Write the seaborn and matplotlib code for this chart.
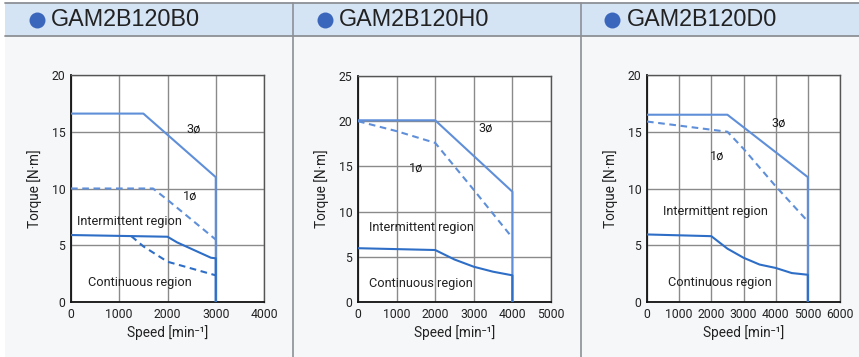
import matplotlib
matplotlib.use("Agg")
import matplotlib.pyplot as plt
import seaborn as sns
import pandas as pd
from matplotlib.patches import Rectangle
from matplotlib.lines import Line2D

sns.set_theme(style="white")
NARROW = ["Roboto", "DejaVu Sans"]
plt.rcParams["font.family"] = NARROW

# ---------------- data ----------------
titles = ["GAM2B120B0", "GAM2B120H0", "GAM2B120D0"]
x_max = [4000, 5000, 6000]
y_max = [20, 25, 20]

# GAM2B120B0
b0_3ph_x = [0, 1500, 3000, 3000]
b0_3ph_y = [16.6, 16.6, 11.0, 0]
b0_1ph_x = [0, 1700, 2000, 3000]
b0_1ph_y = [10.0, 10.0, 9.0, 5.5]
b0_cont_x = [0, 2000, 2200, 2900, 3000, 3000]
b0_cont_y = [5.9, 5.75, 5.25, 3.9, 3.85, 0]
b0_cont1_x = [1250, 1500, 2000, 2500, 3000]
b0_cont1_y = [5.8, 4.9, 3.55, 2.95, 2.35]

# GAM2B120H0
h0_3ph_x = [0, 2000, 4000, 4000]
h0_3ph_y = [20.1, 20.1, 12.2, 0]
h0_1ph_x = [0, 1000, 2000, 3000, 4000]
h0_1ph_y = [20.0, 18.9, 17.6, 12.4, 7.1]
h0_cont_x = [0, 2000, 2500, 3000, 3500, 4000, 4000]
h0_cont_y = [5.95, 5.75, 4.7, 3.9, 3.35, 2.95, 0]

# GAM2B120D0
d0_3ph_x = [0, 2500, 5000, 5000]
d0_3ph_y = [16.5, 16.5, 11.0, 0]
d0_1ph_x = [0, 2500, 3000, 4000, 5000]
d0_1ph_y = [15.9, 15.0, 13.5, 10.2, 7.1]
d0_cont_x = [0, 2000, 2500, 3000, 3500, 4000, 4500, 5000, 5000]
d0_cont_y = [5.95, 5.8, 4.7, 3.9, 3.3, 3.0, 2.55, 2.4, 0]

labels_3ph = [(2550, 15.2), (3300, 19.2), (4100, 15.8)]
labels_1ph = [(2470, 9.3), (1500, 14.8), (2190, 12.9)]
labels_int = [(1220, 7.1), (1640, 8.2), (2140, 7.95)]
labels_cont = [(1430, 1.7), (1640, 2.1), (2280, 1.7)]

LIGHT = "#5f8fd9"
DARK = "#2e6ec6"

W, H = 859, 357
fig = plt.figure(figsize=(W / 100, H / 100), dpi=100)
fig.patch.set_facecolor("white")


def fx(px):
    return px / W


def fy(py):
    return 1 - py / H


# background panels
fig.add_artist(Rectangle((fx(5), 0), fx(W - 5), fy(36), transform=fig.transFigure,
                         facecolor="#f6f7f9", edgecolor="none", zorder=0))
fig.add_artist(Rectangle((fx(5), fy(36)), fx(W - 5), (33) / H, transform=fig.transFigure,
                         facecolor="#d5e4f5", edgecolor="none", zorder=0))
for yy in (3, 36):
    fig.add_artist(Line2D([fx(5), 1], [fy(yy), fy(yy)], transform=fig.transFigure,
                          color="#8c9096", lw=1.3, zorder=1))
for xx in (293, 581):
    fig.add_artist(Line2D([fx(xx), fx(xx)], [0, fy(3)], transform=fig.transFigure,
                          color="#8c9096", lw=1.2, zorder=1))

# titles
bullet_x = [37, 325, 612]
title_x = [51, 339, 627]
for bx, tx, t in zip(bullet_x, title_x, titles):
    fig.add_artist(Line2D([fx(bx)], [fy(20)], transform=fig.transFigure, marker="o",
                          markersize=11.5, color="#3a66bc", markeredgewidth=0, zorder=2))
    fig.text(fx(tx), fy(20), t, fontsize=16.8, color="#222222", va="center", ha="left",
             family=["Liberation Sans", "DejaVu Sans"], zorder=2)

boxes = [(71, 264, 75, 302), (358, 551, 76, 302), (647, 840, 75, 302)]

series = [
    [(b0_3ph_x, b0_3ph_y, LIGHT, "-"), (b0_1ph_x, b0_1ph_y, LIGHT, "--"),
     (b0_cont_x, b0_cont_y, DARK, "-"), (b0_cont1_x, b0_cont1_y, DARK, "--")],
    [(h0_3ph_x, h0_3ph_y, LIGHT, "-"), (h0_1ph_x, h0_1ph_y, LIGHT, "--"),
     (h0_cont_x, h0_cont_y, DARK, "-")],
    [(d0_3ph_x, d0_3ph_y, LIGHT, "-"), (d0_1ph_x, d0_1ph_y, LIGHT, "--"),
     (d0_cont_x, d0_cont_y, DARK, "-")],
]

for i, (l, r, t, b) in enumerate(boxes):
    ax = fig.add_axes([fx(l), fy(b), (r - l) / W, (b - t) / H])
    ax.set_facecolor("white")
    for xs, ys, col, ls in series[i]:
        df = pd.DataFrame({"x": xs, "y": ys})
        sns.lineplot(data=df, x="x", y="y", sort=False, estimator=None, ax=ax,
                     color=col, lw=1.5, zorder=3,
                     linestyle=(0, (3.2, 2.2)) if ls == "--" else "-")
    ax.set_xlim(0, x_max[i])
    ax.set_ylim(0, y_max[i])
    ax.set_xticks(range(0, x_max[i] + 1, 1000))
    ax.set_yticks(range(0, y_max[i] + 1, 5))
    ax.grid(True, color="#8a8a8a", lw=1.0)
    ax.set_axisbelow(True)
    ax.tick_params(length=0, pad=4, labelsize=8.8, colors="#222222")
    for s in ("top", "right"):
        ax.spines[s].set_color("#555555")
        ax.spines[s].set_linewidth(1.0)
    for s in ("left", "bottom"):
        ax.spines[s].set_color("#111111")
        ax.spines[s].set_linewidth(1.3)
    ax.set_xlabel("Speed [min⁻¹]", fontsize=9.8, color="#222222", labelpad=3)
    ax.set_ylabel("Torque [N·m]", fontsize=9.8, color="#222222", labelpad=7)
    kw = dict(fontsize=9.2, color="#222222", ha="center", va="center", zorder=4)
    ax.text(*labels_3ph[i], "3ø", **kw)
    ax.text(*labels_1ph[i], "1ø", **kw)
    ax.text(*labels_int[i], "Intermittent region", **kw)
    ax.text(*labels_cont[i], "Continuous region", **kw)

fig.savefig("out.png", dpi=100)
